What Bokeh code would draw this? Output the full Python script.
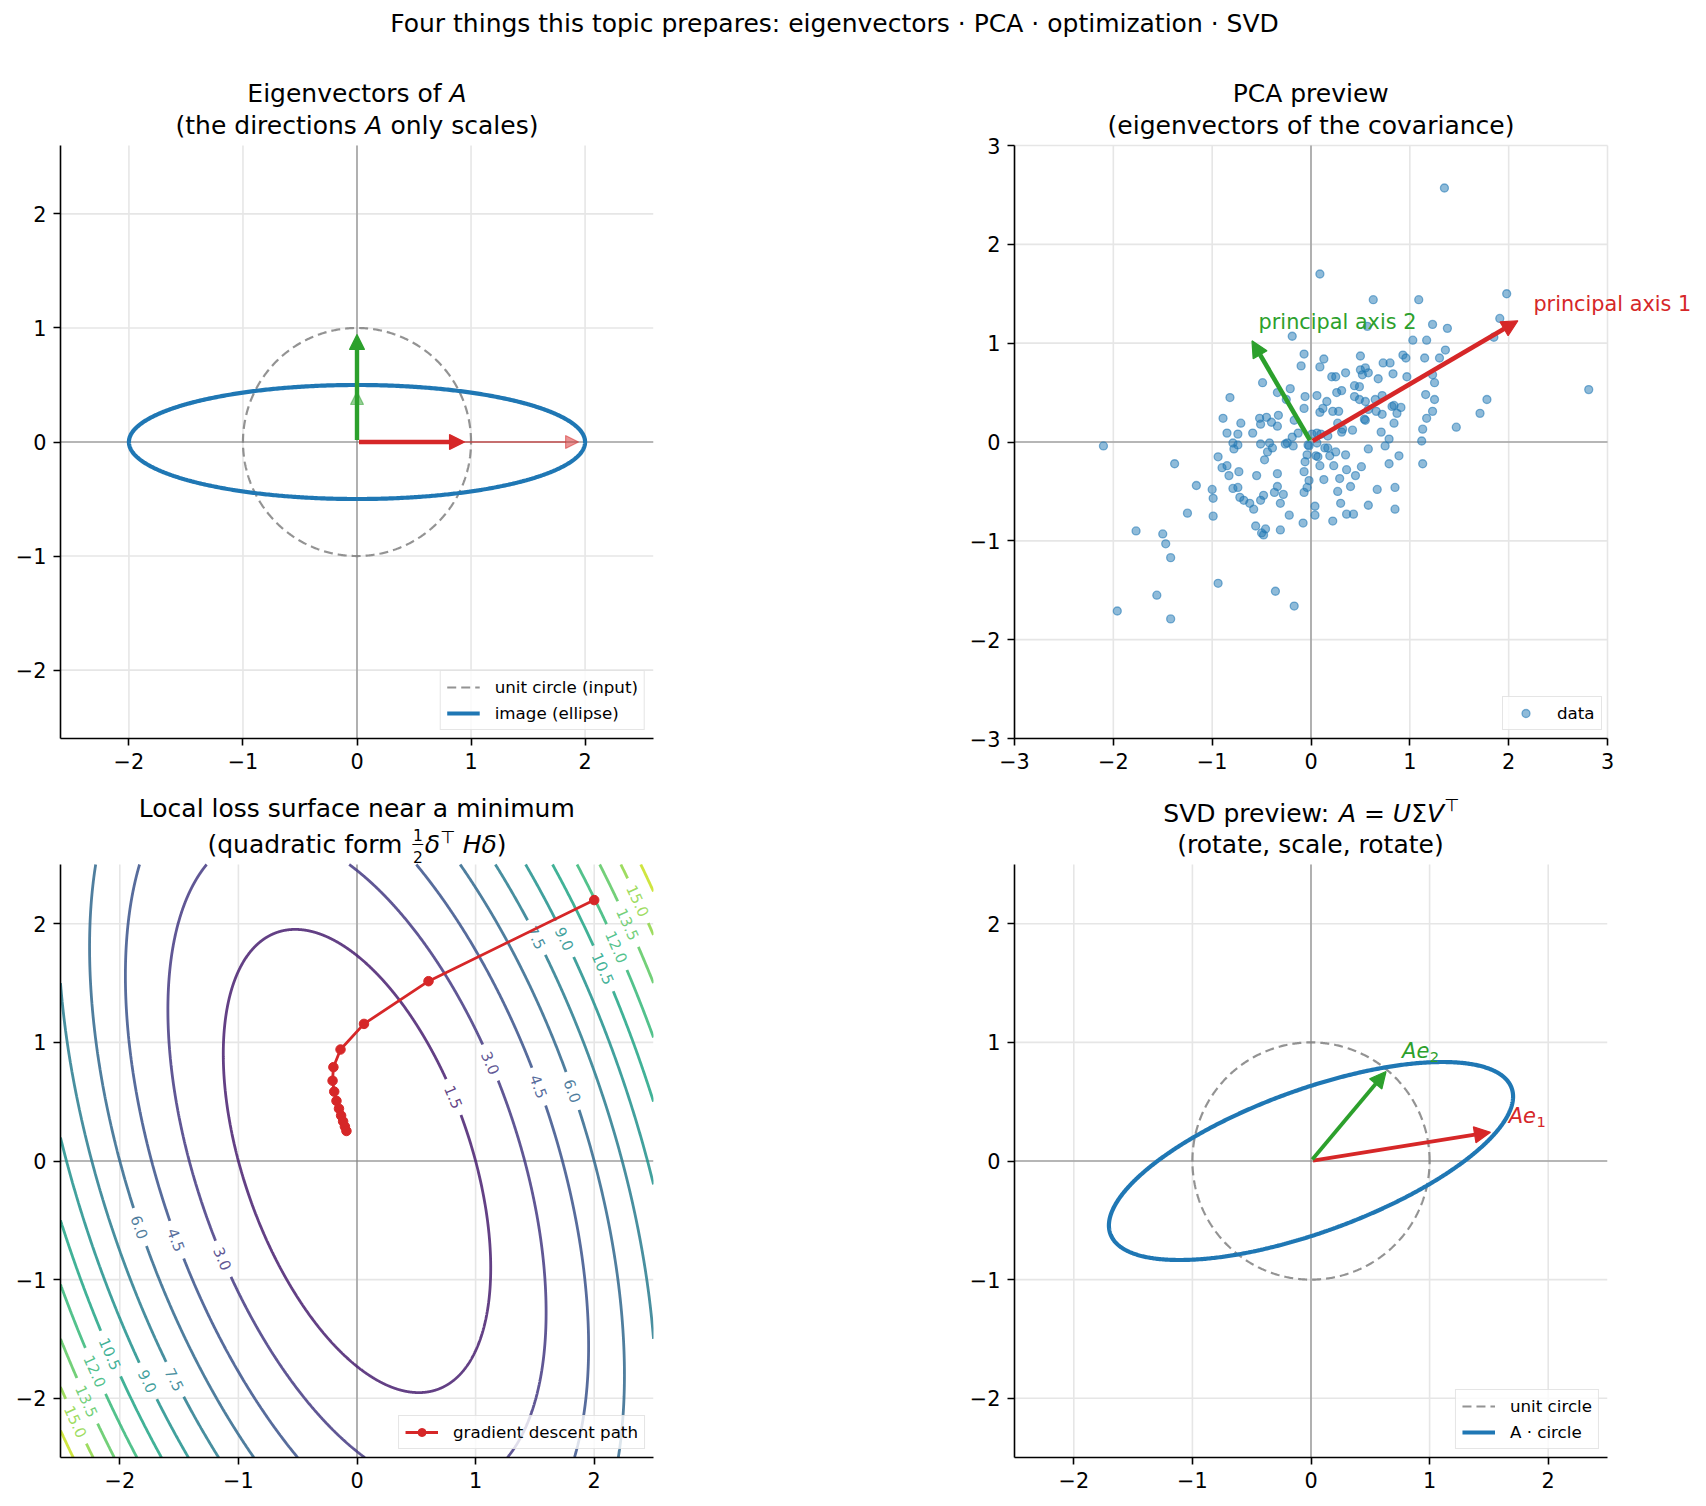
import numpy as np
from bokeh.plotting import figure
from bokeh.layouts import column, row
from bokeh.models import (ColumnDataSource, Label, Span, Arrow, NormalHead, FixedTicker,
                          CustomJSTickFormatter, Range1d)
from bokeh.embed import file_html
from bokeh.resources import INLINE
from bokeh.core.properties import value
from bokeh.palettes import Viridis256

FONT = "DejaVu Sans"
RED, GREEN, BLUE, GRAY = "#d62728", "#2ca02c", "#1f77b4", "#808080"

SUPTITLE = "Four things this topic prepares: eigenvectors · PCA · optimization · SVD"

# ---------------- panel 1: eigenvectors of a diagonal matrix ----------------
eig_matrix = [[2.0, 0.0], [0.0, 0.5]]
eig_basis = [[1.0, 0.0], [0.0, 1.0]]          # e1, e2
eig_colors = [RED, GREEN]
eig_ticks = [-2, -1, 0, 1, 2]
eig_lim = 2.6

# ---------------- panel 2: PCA scatter ----------------
pca_x = [1.35, 0.09, 1.98, 0.63, 1.09, 1.23, 1.38, 1.91, 1.85, -0.19, 0.57, 1.03, 1.17, 1.36,
         1.30, 0.93, 0.96, 1.15, 0.50, -0.07, 0.13, -0.10, 0.09, 0.73, 0.80, 0.50, 0.55, 0.58,
         0.35, 0.21, 0.25, 0.68, 0.83, 0.97, 1.23, 1.25, -0.49, -0.21, 0.44, 0.49, 0.31, 0.26,
         0.16, 0.06, -0.06, -0.34, -0.82, 0.44, 0.49, 0.55, 0.65, 0.72, 1.16, 1.25, 1.78, 0.12,
         0.09, 0.22, 0.28, -0.07, 0.82, 0.84, 0.91, 0.87, 0.72, 0.66, 0.58, 0.54, 0.55, 1.23,
         1.17, 1.71, 1.47, -0.89, -0.52, -0.45, -0.33, -0.51, -0.40, -0.71, -0.34, -0.17, -0.25,
         0.27, 0.32, 0.31, 0.42, 0.84, 0.71, 0.79, 1.13, 1.12, -0.85, -0.59, -0.74, -0.19, -0.13,
         0.01, 0.06, 0.10, 0.17, -0.03, -0.02, 0.06, -0.24, -0.26, -0.18, -0.79, -0.74, -0.51,
         -0.42, -0.39, -0.78, -2.10, -0.44, 0.14, 0.17, 0.58, 0.75, 0.25, 0.19, 0.35, -0.04, 0.05,
         0.07, 0.89, -0.94, -0.47, -0.06, -1.38, 0.09, 0.23, 0.51, 0.79, 1.13, -0.90, -0.85, -0.73,
         0.36, -0.07, -0.34, -0.83, -0.55, 0.45, -0.02, 0.13, 0.29, -1.16, -0.74, -0.79, -0.34,
         -0.04, 0.40, 0.67, 0.85, -1.00, -0.99, -0.37, -0.28, -0.07, 0.27, -0.48, -0.51, -0.72,
         -0.68, -0.62, -0.58, -0.31, 0.30, 0.04, 0.58, -1.25, -0.99, -0.22, 0.04, 0.36, 0.43, 0.85,
         0.22, -0.08, -0.56, -0.46, -0.31, -0.50, -0.48, -1.77, -1.50, -1.47, -1.42, -0.94, -0.36,
         -1.56, -0.17, -1.96, -1.42, 2.81, 0.52]
pca_y = [2.57, 1.70, 1.50, 1.44, 1.44, 1.19, 1.15, 1.25, 1.06, 1.07, 1.17, 1.03, 1.03, 0.93,
         0.85, 0.88, 0.85, 0.85, 0.87, 0.89, 0.84, 0.77, 0.76, 0.80, 0.80, 0.73, 0.75, 0.70,
         0.70, 0.66, 0.66, 0.64, 0.69, 0.66, 0.68, 0.60, 0.60, 0.54, 0.57, 0.56, 0.52, 0.50,
         0.41, 0.47, 0.46, 0.50, 0.45, 0.46, 0.43, 0.41, 0.43, 0.47, 0.48, 0.43, 0.43, 0.34,
         0.30, 0.31, 0.31, 0.34, 0.36, 0.37, 0.35, 0.29, 0.28, 0.31, 0.33, 0.23, 0.22, 0.31,
         0.24, 0.29, 0.15, 0.24, 0.24, 0.25, 0.27, 0.18, 0.20, 0.19, 0.16, 0.22, 0.43,
         0.19, 0.13, 0.10, 0.12, 0.19, 0.10, 0.03, 0.13, 0.01, 0.09, 0.09, 0.08, 0.05, 0.09,
         0.08, 0.09, 0.08, 0.06, -0.03, -0.04, -0.01, -0.01, -0.02, -0.04, -0.01, -0.03, -0.02,
         -0.01, -0.06, -0.07, -0.04, -0.10, -0.06, -0.06, -0.07, -0.04, -0.10, -0.14, -0.13, -0.13, -0.14,
         -0.15, -0.14, -0.15, -0.18, -0.20, -0.22, -0.24, -0.24, -0.25, -0.22, -0.22, -0.26, -0.24, -0.30,
         -0.28, -0.30, -0.32, -0.34, -0.34, -0.34, -0.39, -0.38, -0.37, -0.44, -0.46, -0.47, -0.45,
         -0.46, -0.45, -0.48, -0.46, -0.48, -0.57, -0.51, -0.53, -0.51, -0.50, -0.54, -0.59, -0.56,
         -0.59, -0.62, -0.68, -0.62, -0.62, -0.65, -0.64, -0.72, -0.75, -0.74, -0.74, -0.73, -0.73, -0.68,
         -0.80, -0.82, -0.85, -0.88, -0.89, -0.92, -0.94, -0.90, -0.93, -1.03, -1.17, -1.43, -1.51,
         -1.55, -1.66, -1.71, -1.79, 0.53, 0.68]
pc_ends = [[2.15, 1.26], [-0.63, 1.08]]
pc_colors = [RED, GREEN]
pc_names = ["principal axis 1", "principal axis 2"]
pc_label_offset = [0.10, 0.06]
pca_ticks = [-3, -2, -1, 0, 1, 2, 3]
pca_lim = 3.0

# ---------------- panel 3: quadratic loss surface ----------------
hessian = [[3.0, 0.8], [0.8, 1.0]]
loss_levels = [1.5, 3.0, 4.5, 6.0, 7.5, 9.0, 10.5, 12.0, 13.5, 15.0, 16.5]
level_norm = [0.0, 18.0]
# inline contour labels: (level, approximate x, approximate y)
level_labels = [(1.5, 0.82, 0.54), (3.0, 1.13, 0.83), (4.5, 1.53, 0.63), (6.0, 1.82, 0.59),
                (7.5, 1.52, 1.89), (9.0, 1.77, 1.88), (10.5, 2.08, 1.63), (12.0, 2.21, 1.81),
                (13.5, 2.29, 2.00), (15.0, 2.39, 2.21),
                (3.0, -1.13, -0.82), (4.5, -1.54, -0.67), (6.0, -1.83, -0.56), (7.5, -1.51, -1.83),
                (9.0, -1.76, -1.86), (10.5, -2.08, -1.62), (12.0, -2.20, -1.77), (13.5, -2.29, -2.03),
                (15.0, -2.38, -2.20)]
gd_x = [2.000, 0.603, 0.059, -0.139, -0.199, -0.206, -0.192, -0.173, -0.152, -0.134, -0.117, -0.102, -0.089]
gd_y = [2.200, 1.516, 1.156, 0.940, 0.791, 0.677, 0.585, 0.507, 0.441, 0.383, 0.334, 0.290, 0.253]
loss_ticks = [-2, -1, 0, 1, 2]
loss_lim = 2.5

# ---------------- panel 4: SVD ----------------
svd_u_deg = 20.0
svd_sigma = [1.8, 0.6]
svd_v_deg = 30.0
svd_label_offset = [0.10, 0.07]
svd_ticks = [-2, -1, 0, 1, 2]
svd_lim = 2.5

# ---------------- layout constants (pixels) ----------------
FRAME = 593
PAGE_W = 1706
HEAD_H = 60
LEFT_W, RIGHT_W = 953, 753
TOP1, TOP2 = 85, 80            # room above each axes box for its two-line title
BOTTOM1, BOTTOM2 = 46, 49
BASE_SHIFT = 0.35              # Bokeh draws an alphabetic baseline about this many ems low

GLYPH_W = {' ': 651, '(': 799, ')': 799, ':': 690, ',': 651, '=': 1716, '·': 651,
           'A': 1401, 'C': 1430, 'D': 1577, 'E': 1294, 'H': 1540, 'L': 1141, 'P': 1235,
           'S': 1300, 'U': 1499, 'V': 1401, 'Σ': 1294, 'δ': 1253, '⊤': 1716,
           'a': 1255, 'b': 1300, 'c': 1126, 'd': 1300, 'e': 1260, 'f': 721, 'g': 1300,
           'h': 1298, 'i': 569, 'j': 569, 'k': 1186, 'l': 569, 'm': 1995, 'n': 1298,
           'o': 1253, 'p': 1300, 'q': 1300, 'r': 842, 's': 1067, 't': 803, 'u': 1298,
           'v': 1212, 'w': 1675, 'x': 1212, 'y': 1212, 'z': 1075}


def text_width(s, size):
    return sum(GLYPH_W.get(ch, 1303) for ch in s) / 2048.0 * size


def put_text(fig, x, y, text, size, color="black", italic=False, align="left", dx=0.0, rise=0.0):
    fig.add_layout(Label(x=x, y=y, text=text, text_font=FONT,
                         text_font_style="italic" if italic else "normal",
                         text_font_size=f"{size}px", text_color=color, text_align=align,
                         text_baseline="alphabetic", x_offset=dx,
                         y_offset=BASE_SHIFT * size + rise))


def title_line(p, lim, above, segs):
    """Centered title line whose baseline sits `above` px over the axes box.
    segs: list of (text, italic, size, rise_px); 'FRAC' draws a stacked 1/2."""
    widths = [14.0 if t == "FRAC" else text_width(t, s) for t, it, s, r in segs]
    x = -sum(widths) / 2.0
    for (text, italic, size, rise), w in zip(segs, widths):
        if text == "FRAC":
            c = x + w / 2.0
            put_text(p, 0, lim, "1", 15.5, align="center", dx=c, rise=above + 13.0)
            put_text(p, 0, lim, "2", 15.5, align="center", dx=c, rise=above - 9.5)
            put_text(p, 0, lim, "\u2014", 12.0, align="center", dx=c, rise=above + 4.5)
        else:
            stripped = text.lstrip(" ")
            lead = text_width(text[:len(text) - len(stripped)], size)
            put_text(p, 0, lim, stripped, size, italic=italic, dx=x + lead, rise=above + rise)
        x += w


def make_panel(width, height, lim, ticks, borders, y_extra, x_extra=0.0):
    left, right, bottom = borders
    ppu = FRAME / (2 * lim)
    p = figure(width=width, height=height, x_range=Range1d(-lim, lim + x_extra / ppu),
               y_range=Range1d(-lim, lim + y_extra / ppu), output_backend="svg",
               toolbar_location=None, title=None, min_border_left=left, min_border_right=right,
               min_border_top=0, min_border_bottom=bottom)
    p.outline_line_color = None
    p.background_fill_color = "white"
    p.border_fill_color = "white"
    fmt = CustomJSTickFormatter(code="return tick < 0 ? '\u2212' + (-tick) : '' + tick;")
    for axis_list in (p.xaxis, p.yaxis):
        ax = axis_list[0]
        ax.ticker = FixedTicker(ticks=ticks)
        ax.formatter = fmt
        ax.bounds = (-lim, lim)
        ax.major_label_text_font = FONT
        ax.major_label_text_font_size = "20.8px"
        ax.major_label_text_color = "black"
        ax.axis_line_color = "black"
        ax.axis_line_width = 1.6
        ax.major_tick_line_color = "black"
        ax.major_tick_line_width = 1.6
        ax.major_tick_out = 7
        ax.major_tick_in = 0
        ax.minor_tick_line_color = None
        ax.major_label_standoff = 7
    p.grid.visible = False
    # grid lines and zero lines confined to the axes box
    t = np.array(ticks, float)
    lo, hi = np.full(t.size, -lim), np.full(t.size, lim)
    p.segment(x0=lo, x1=hi, y0=t, y1=t, line_color="#e6e6e6", line_width=1.6, level="underlay")
    p.segment(x0=t, x1=t, y0=lo, y1=hi, line_color="#e6e6e6", line_width=1.6, level="underlay")
    p.segment(x0=[-lim, 0], x1=[lim, 0], y0=[0, -lim], y1=[0, lim], line_color=GRAY,
              line_width=1.1, level="underlay")
    return p, ppu


def arrow(p, vec, ppu, color, width, head, alpha=1.0, s0=2.0, s1=6.5):
    v = np.asarray(vec, float)
    u = v / np.linalg.norm(v)
    a = u * s0 / ppu
    b = v - u * s1 / ppu
    src = ColumnDataSource(dict(x0=[a[0]], y0=[a[1]], x1=[b[0]], y1=[b[1]]))
    p.add_layout(Arrow(end=NormalHead(size=head, fill_color=color, line_color=color,
                                      fill_alpha=alpha, line_alpha=alpha, line_width=1.2),
                       x_start="x0", y_start="y0", x_end="x1", y_end="y1", source=src,
                       line_color=color, line_width=width, line_alpha=alpha))


def style_legend(p, location="bottom_right"):
    lg = p.legend[0]
    lg.location = location
    lg.margin = 8
    lg.padding = 6
    lg.spacing = 6
    lg.glyph_width = 33
    lg.glyph_height = 20
    lg.label_height = 20
    lg.label_standoff = 15
    lg.label_text_font = FONT
    lg.label_text_font_size = "16.7px"
    lg.label_text_color = "black"
    lg.label_text_baseline = "middle"
    lg.border_line_color = "#cccccc"
    lg.border_line_width = 1.2
    lg.background_fill_color = "white"
    lg.background_fill_alpha = 0.8


def clip_polyline(x, y, lim):
    """Clip a dense polyline to the square [-lim, lim]^2, NaN-separated."""
    ox, oy = [], []
    inside = (np.abs(x) <= lim) & (np.abs(y) <= lim)
    for i in range(len(x)):
        if i > 0 and inside[i] != inside[i - 1] and np.isfinite(x[i]) and np.isfinite(x[i - 1]):
            xa, ya, xb, yb = x[i - 1], y[i - 1], x[i], y[i]
            lo, hi = 0.0, 1.0
            for _ in range(30):
                m = (lo + hi) / 2
                xm, ym = xa + m * (xb - xa), ya + m * (yb - ya)
                ins = abs(xm) <= lim and abs(ym) <= lim
                if ins == inside[i - 1]:
                    lo = m
                else:
                    hi = m
            ox.append(xa + lo * (xb - xa)); oy.append(ya + lo * (yb - ya))
            if not inside[i]:
                ox.append(np.nan); oy.append(np.nan)
        if inside[i] and np.isfinite(x[i]):
            ox.append(x[i]); oy.append(y[i])
        elif not np.isfinite(x[i]):
            ox.append(np.nan); oy.append(np.nan)
    return np.array(ox), np.array(oy)


theta = np.linspace(0, 2 * np.pi, 721)
circle = np.vstack([np.cos(theta), np.sin(theta)])

# ---------------- header ----------------
head = figure(width=PAGE_W, height=HEAD_H, x_range=Range1d(0, PAGE_W), y_range=Range1d(0, HEAD_H),
              output_backend="svg", toolbar_location=None, title=None, min_border=0,
              min_border_left=0, min_border_right=0, min_border_top=0, min_border_bottom=0,
              x_axis_location=None, y_axis_location=None)
head.outline_line_color = None
head.grid.visible = False
put_text(head, 834, HEAD_H - 32, SUPTITLE, 25, align="center")

H1 = TOP1 + FRAME + BOTTOM1
H2 = TOP2 + FRAME + BOTTOM2
LINE2 = 11.5

# ---------------- panel 1 ----------------
p1, ppu1 = make_panel(LEFT_W, H1, eig_lim, eig_ticks, (60, 300, BOTTOM1), TOP1)
A1 = np.array(eig_matrix)
img1 = A1 @ circle
p1.line(circle[0], circle[1], line_color=GRAY, line_alpha=0.85, line_width=2.2, line_dash="9 5",
        legend_label="unit circle (input)")
p1.line(img1[0], img1[1], line_color=BLUE, line_width=4.2, legend_label="image (ellipse)")
for vec, col in zip(eig_basis, eig_colors):
    arrow(p1, A1 @ np.array(vec), ppu1, col, 2.0, 13, alpha=0.5)
for vec, col in zip(eig_basis, eig_colors):
    arrow(p1, vec, ppu1, col, 4.4, 15)
style_legend(p1)
title_line(p1, eig_lim, 43.5, [("Eigenvectors of ", False, 25, 0), ("A", True, 25, 0)])
title_line(p1, eig_lim, LINE2, [("(the directions ", False, 25, 0), ("A", True, 25, 0),
                                (" only scales)", False, 25, 0)])

# ---------------- panel 2 ----------------
p2_extra = RIGHT_W - 61 - FRAME
p2, ppu2 = make_panel(RIGHT_W, H1, pca_lim, pca_ticks, (61, 0, BOTTOM1), TOP1, x_extra=p2_extra)
p2.scatter(pca_x, pca_y, marker="circle", size=8, fill_color=BLUE, fill_alpha=0.5,
           line_color=BLUE, line_alpha=0.55, line_width=1.3, legend_label="data")
for end, col, name in zip(pc_ends, pc_colors, pc_names):
    arrow(p2, end, ppu2, col, 4.6, 16)
    put_text(p2, end[0] + pc_label_offset[0], end[1] + pc_label_offset[1], name, 20.8, color=col)
style_legend(p2, location=(FRAME - 8 - 97, 8))
title_line(p2, pca_lim, 43.5, [("PCA preview", False, 25, 0)])
title_line(p2, pca_lim, LINE2, [("(eigenvectors of the covariance)", False, 25, 0)])

# ---------------- panel 3 ----------------
p3, ppu3 = make_panel(LEFT_W, H2, loss_lim, loss_ticks, (60, 300, BOTTOM2), TOP2)
Hm = np.array(hessian)
lam, Q = np.linalg.eigh(Hm)
t_dense = np.linspace(0, 2 * np.pi, 2881)
unit_dense = np.vstack([np.cos(t_dense), np.sin(t_dense)])


def level_color(level):
    f = (level - level_norm[0]) / (level_norm[1] - level_norm[0])
    return Viridis256[int(round(f * 255))]


lab_x, lab_y, lab_t, lab_a, lab_c = [], [], [], [], []
for level in loss_levels:
    pts = Q @ (np.sqrt(2 * level / lam)[:, None] * unit_dense)
    keep = np.ones(pts.shape[1], bool)
    for lv, lx, ly in level_labels:
        if lv != level:
            continue
        d = np.hypot(pts[0] - lx, pts[1] - ly)
        i = int(np.argmin(d))
        px, py = pts[0, i], pts[1, i]
        j0, j1 = (i - 1) % pts.shape[1], (i + 1) % pts.shape[1]
        ang = np.arctan2(pts[1, j1] - pts[1, j0], pts[0, j1] - pts[0, j0])
        if ang > np.pi / 2:
            ang -= np.pi
        if ang < -np.pi / 2:
            ang += np.pi
        txt = f"{level:.1f}"
        r = (text_width(txt, 15) / 2 + 5) / ppu3
        keep &= np.hypot(pts[0] - px, pts[1] - py) > r
        lab_x.append(px); lab_y.append(py); lab_t.append(txt); lab_a.append(ang)
        lab_c.append(level_color(level))
    xs = np.where(keep, pts[0], np.nan)
    ys = np.where(keep, pts[1], np.nan)
    cx_, cy_ = clip_polyline(xs, ys, loss_lim)
    p3.line(cx_, cy_, line_color=level_color(level), line_alpha=0.85, line_width=2.8)
p3.text(x="x", y="y", text="t", angle="a", text_color="c",
        source=ColumnDataSource(dict(x=lab_x, y=lab_y, t=lab_t, a=lab_a, c=lab_c)),
        text_align="center", text_baseline="middle", text_font=value(FONT),
        text_font_size=value("15px"), text_alpha=0.85)
p3.line(gd_x, gd_y, line_color=RED, line_width=2.8, legend_label="gradient descent path")
p3.scatter(gd_x, gd_y, marker="circle", size=9.5, fill_color=RED, line_color=RED,
           legend_label="gradient descent path")
style_legend(p3)
title_line(p3, loss_lim, 47, [("Local loss surface near a minimum", False, 25, 0)])
title_line(p3, loss_lim, LINE2, [("(quadratic form ", False, 25, 0), ("FRAC", False, 15, 0),
                                 ("δ", True, 25, 0), ("⊤", False, 17.5, 10),
                                 (" H", True, 25, 0), ("δ", True, 25, 0), (")", False, 25, 0)])

# ---------------- panel 4 ----------------
p4, ppu4 = make_panel(RIGHT_W, H2, svd_lim, svd_ticks, (61, 99, BOTTOM2), TOP2)


def rot(deg):
    r = np.radians(deg)
    return np.array([[np.cos(r), -np.sin(r)], [np.sin(r), np.cos(r)]])


A4 = rot(svd_u_deg) @ np.diag(svd_sigma) @ rot(svd_v_deg).T
img4 = A4 @ circle
p4.line(circle[0], circle[1], line_color=GRAY, line_alpha=0.85, line_width=2.2, line_dash="9 5",
        legend_label="unit circle")
p4.line(img4[0], img4[1], line_color=BLUE, line_width=4.2, legend_label="A · circle")
for k, col in enumerate([RED, GREEN]):
    a = A4[:, k]
    arrow(p4, a, ppu4, col, 3.8, 16)
    lx, ly = a[0] + svd_label_offset[0], a[1] + svd_label_offset[1]
    put_text(p4, lx, ly, "Ae", 21, color=col, italic=True)
    put_text(p4, lx, ly, str(k + 1), 14.7, color=col, dx=text_width("Ae", 21) + 0.5, rise=-4)
style_legend(p4)
title_line(p4, svd_lim, 42, [("SVD preview: ", False, 25, 0), ("A", True, 25, 0),
                             (" = ", False, 25, 0), ("U", True, 25, 0), ("Σ", False, 25, 0),
                             ("V", True, 25, 0), ("⊤", False, 17.5, 11)])
title_line(p4, svd_lim, LINE2, [("(rotate, scale, rotate)", False, 25, 0)])

layout = column(head, row(p1, p2), row(p3, p4))
open("out.html", "w").write(file_html(layout, INLINE))
